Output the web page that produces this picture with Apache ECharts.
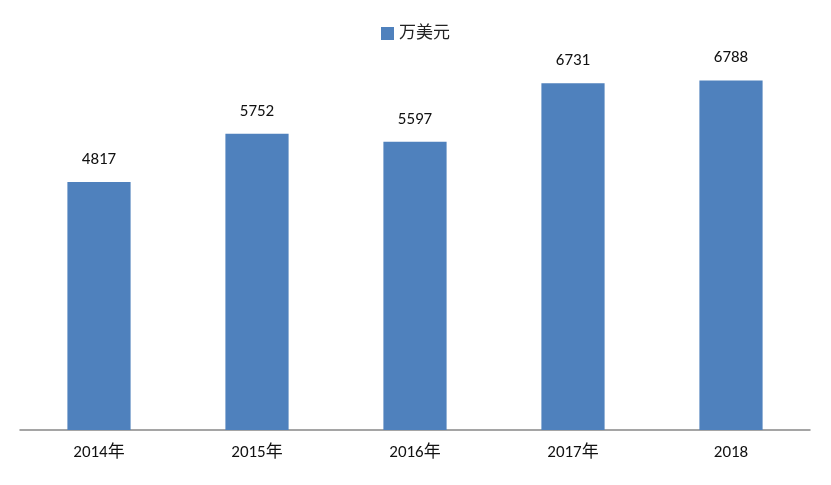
<!DOCTYPE html>
<html><head><meta charset="utf-8">
<script src="https://cdn.jsdelivr.net/npm/echarts@6/dist/echarts.min.js"></script>
<style>html,body{margin:0;padding:0;background:#fff}#c{width:831px;height:485px}</style>
</head><body><div id="c"></div>
<script>
const categories = ['2014年','2015年','2016年','2017年','2018'];
const values = [4817, 5752, 5597, 6731, 6788];
const seriesName = '万美元';
const chart = echarts.init(document.getElementById('c'));
const font = "Carlito, 'Liberation Sans', 'Noto Sans CJK SC', sans-serif";
chart.setOption({
  animation:false,
  legend:{top:20,left:'center',itemWidth:13,itemHeight:13,icon:'rect',
    textStyle:{fontSize:17,color:'#222',fontFamily:font},data:[seriesName]},
  grid:{left:20,right:21,top:18,bottom:55},
  xAxis:{type:'category',data:categories,
    axisLine:{lineStyle:{color:'#888',width:1.5}},axisTick:{show:false},
    axisLabel:{fontSize:17,color:'#111',margin:14,fontFamily:font}},
  yAxis:{type:'value',min:0,max:8000,show:false,splitLine:{show:false}},
  series:[{name:seriesName,type:'bar',data:values,barWidth:'40%',
    itemStyle:{color:'#4F81BD'},
    label:{show:true,position:'top',distance:14,fontSize:17,color:'#111',fontFamily:font}}]
});
</script></body></html>
